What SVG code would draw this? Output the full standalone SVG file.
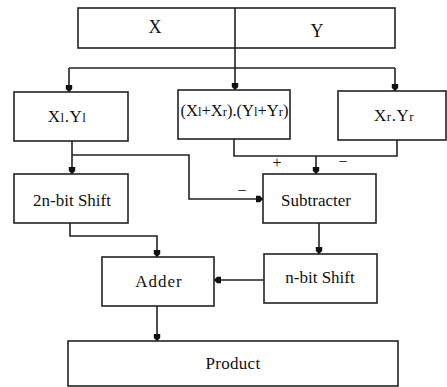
<svg xmlns="http://www.w3.org/2000/svg" width="447" height="387" viewBox="0 0 447 387">
<style>
.box{fill:#fff;stroke:#222;stroke-width:1.6}
.ln{fill:none;stroke:#222;stroke-width:1.6}
text{font-family:"Liberation Serif","Times New Roman",serif;fill:#111;text-anchor:middle}
.t{font-size:17px}
.s{font-size:13px}
.sg{font-size:16px}
</style>
<defs>
<marker id="ah" markerUnits="userSpaceOnUse" markerWidth="10" markerHeight="10" viewBox="-8 -4 10 8" refX="0" refY="0" orient="auto">
<path d="M-7,-3.2 L-3,-3.2 L0,0 L-3,3.2 L-7,3.2 Z" fill="#111"/>
</marker>
</defs>
<rect width="447" height="387" fill="#fff"/>
<g id="connectors">
<path class="ln" d="M235,48 V90" marker-end="url(#ah)"/>
<path class="ln" d="M69,68 H395"/>
<path class="ln" d="M69,68 V92" marker-end="url(#ah)"/>
<path class="ln" d="M395,68 V91" marker-end="url(#ah)"/>
<path class="ln" d="M72,141 V174" marker-end="url(#ah)"/>
<path class="ln" d="M72,155 H189 V199 H263" marker-end="url(#ah)"/>
<path class="ln" d="M234,139 V156 H397 V140"/>
<path class="ln" d="M316,156 V174" marker-end="url(#ah)"/>
<path class="ln" d="M70,223 V236 H157 V257" marker-end="url(#ah)"/>
<path class="ln" d="M319,223 V254" marker-end="url(#ah)"/>
<path class="ln" d="M264,280 H214" marker-end="url(#ah)"/>
<path class="ln" d="M157,306 V341" marker-end="url(#ah)"/>
<text class="sg" x="277" y="168">+</text>
<text class="sg" x="343" y="167">−</text>
<text class="sg" x="242" y="196">−</text>
</g>
<g id="xy">
<rect class="box" x="78" y="8" width="317" height="40"/>
<line class="ln" x1="235" y1="8" x2="235" y2="48"/>
<text class="t" x="155" y="33" style="font-size:18px">X</text>
<text class="t" x="317" y="37" style="font-size:18px">Y</text>
</g>
<g id="xlyl">
<rect class="box" x="14" y="92" width="114" height="49"/>
<text class="t" x="67" y="122" style="letter-spacing:0.5px">X<tspan class="s">l</tspan>.Y<tspan class="s">l</tspan></text>
</g>
<g id="mid">
<rect class="box" x="178" y="90" width="112" height="49"/>
<text class="t" x="234.5" y="116" textLength="108" lengthAdjust="spacingAndGlyphs">(X<tspan class="s">l</tspan>+X<tspan class="s">r</tspan>).(Y<tspan class="s">l</tspan>+Y<tspan class="s">r</tspan>)</text>
</g>
<g id="xryr">
<rect class="box" x="338" y="91" width="108" height="49"/>
<text class="t" x="394" y="121" style="letter-spacing:0.5px">X<tspan class="s">r</tspan>.Y<tspan class="s">r</tspan></text>
</g>
<g id="shift2n">
<rect class="box" x="14" y="174" width="114" height="49"/>
<text class="t" x="72" y="206">2n-bit Shift</text>
</g>
<g id="subtracter">
<rect class="box" x="263" y="174" width="113" height="49"/>
<text class="t" x="316" y="206">Subtracter</text>
</g>
<g id="adder">
<rect class="box" x="102" y="257" width="112" height="49"/>
<text class="t" x="159" y="287" style="letter-spacing:1px">Adder</text>
</g>
<g id="shiftn">
<rect class="box" x="264" y="254" width="113" height="49"/>
<text class="t" x="320" y="283">n-bit Shift</text>
</g>
<g id="product">
<rect class="box" x="68" y="341" width="330" height="45"/>
<text class="t" x="233" y="369" style="letter-spacing:0.3px">Product</text>
</g>
</svg>
